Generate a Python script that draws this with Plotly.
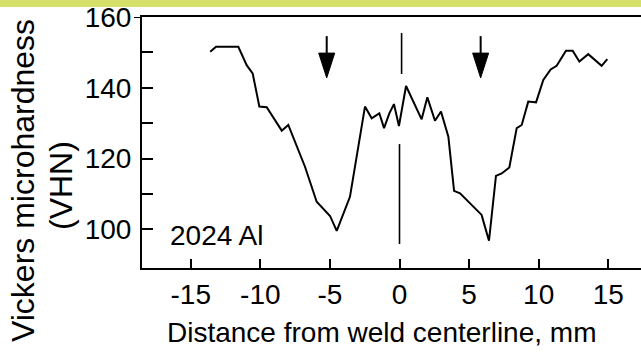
import plotly.graph_objects as go

# data
distance_mm = [-13.6, -13.18, -11.58, -10.98, -10.55, -10.07, -9.54, -8.46, -7.99, -7.39,
               -6.79, -5.95, -4.99, -4.51, -3.56, -2.48, -2.0, -1.45, -1.11, -0.73,
               -0.40, -0.04, 0.47, 1.59, 2.0, 2.55, 2.98, 3.51, 3.92, 4.35,
               5.9, 6.07, 6.43, 6.93, 7.34, 7.89, 8.42, 8.78, 9.25, 9.81,
               10.33, 10.86, 11.29, 11.96, 12.44, 12.92, 13.56, 14.52, 14.93]
hardness_vhn = [150.2, 151.6, 151.6, 146.4, 144.1, 134.7, 134.5, 127.9, 129.5, 123.4,
                117.7, 107.8, 103.8, 99.6, 109.2, 134.7, 131.4, 132.8, 128.6, 132.8,
                135.4, 129.2, 140.5, 131.1, 137.3, 130.7, 133.3, 126.2, 110.9, 110.2,
                104.1, 101.7, 96.8, 115.1, 115.8, 117.5, 128.6, 129.5, 136.1, 135.9,
                142.2, 145.2, 146.2, 150.5, 150.5, 147.4, 149.5, 146.2, 148.1]

x_ticks = [-15, -10, -5, 0, 5, 10, 15]
x_tick_labels = ["-15", "-10", "-5", "0", "5", "10", "15"]
y_ticks = [100, 110, 120, 130, 140, 150, 160]
y_tick_labels = ["100", "", "120", "", "140", "", "160"]

# annotation marks
arrow_x = [-5.23, 5.83]
arrow_top = 154.6
arrow_base = 149.8
arrow_tip = 142.8
centerline_upper = [0.15, 155.5, 143.9]   # x, y top, y bottom
centerline_lower = [0.0, 124.1, 95.9]

X_RANGE = [-18.5, 17.35]
Y_RANGE = [89.1, 160]
FONT = "Liberation Sans, Arial, Helvetica, sans-serif"

W, H = 641, 352
ML, MR, MT, MB = 142, 0, 17, 84
pw = W - ML - MR
ph = H - MT - MB
ux = (X_RANGE[1] - X_RANGE[0]) / pw   # data units per pixel
uy = (Y_RANGE[1] - Y_RANGE[0]) / ph


def px_to_paper_y(py):
    return 1 - (py - MT) / ph


def px_to_paper_x(px):
    return (px - ML) / pw


fig = go.Figure()
fig.add_trace(go.Scatter(x=distance_mm, y=hardness_vhn, mode="lines",
                         line=dict(color="black", width=2), showlegend=False,
                         hoverinfo="skip"))

shapes = []
# top band
shapes.append(dict(type="rect", xref="paper", yref="paper",
                   x0=px_to_paper_x(0), x1=1.0, y0=px_to_paper_y(7), y1=px_to_paper_y(0),
                   fillcolor="#d5e06b", line=dict(width=0), layer="above"))
# outside tick at 160
shapes.append(dict(type="line", xref="paper", yref="y", x0=px_to_paper_x(134), x1=0,
                   y0=160, y1=160, line=dict(color="black", width=2)))
# centerline
for cx, ya, yb in (centerline_upper, centerline_lower):
    shapes.append(dict(type="line", xref="x", yref="y", x0=cx, x1=cx, y0=ya, y1=yb,
                       line=dict(color="black", width=1.6)))
# arrows
hw = 8 * ux
for ax in arrow_x:
    shapes.append(dict(type="line", xref="x", yref="y", x0=ax, x1=ax,
                       y0=arrow_top, y1=arrow_base, line=dict(color="black", width=2)))
    shapes.append(dict(type="path", xref="x", yref="y",
                       path=f"M{ax - hw},{arrow_base} L{ax + hw},{arrow_base} L{ax},{arrow_tip} Z",
                       fillcolor="black", line=dict(color="black", width=1)))

annotations = [
    dict(text="2024 Al", x=-16.63, y=98.4, xref="x", yref="y", xanchor="left",
         yanchor="middle", showarrow=False, font=dict(size=28, color="black", family=FONT)),
    dict(text="Distance from weld centerline, mm", x=px_to_paper_x(381), y=px_to_paper_y(332),
         xref="paper", yref="paper", xanchor="center", yanchor="middle", showarrow=False,
         font=dict(size=28, color="black", family=FONT)),
    dict(text="Vickers microhardness", x=px_to_paper_x(23), y=px_to_paper_y(181),
         xref="paper", yref="paper", xanchor="center", yanchor="middle", showarrow=False,
         textangle=-90, font=dict(size=32, color="black", family=FONT)),
    dict(text="(VHN)", x=px_to_paper_x(61), y=px_to_paper_y(186),
         xref="paper", yref="paper", xanchor="center", yanchor="middle", showarrow=False,
         textangle=-90, font=dict(size=32, color="black", family=FONT)),
]

fig.update_layout(
    width=W, height=H, margin=dict(l=ML, r=MR, t=MT, b=MB, autoexpand=False),
    paper_bgcolor="white", plot_bgcolor="white",
    shapes=shapes, annotations=annotations,
    font=dict(family=FONT, size=28, color="black"),
    xaxis=dict(range=X_RANGE, tickvals=x_ticks, ticktext=x_tick_labels,
               ticks="inside", ticklen=9, tickwidth=2, tickcolor="black",
               showline=True, linecolor="black", linewidth=2, mirror=True,
               showgrid=False, zeroline=False, automargin=False,
               tickfont=dict(size=28, family=FONT)),
    yaxis=dict(range=Y_RANGE, tickvals=y_ticks, ticktext=y_tick_labels,
               ticks="inside", ticklen=11, tickwidth=2, tickcolor="black",
               showline=True, linecolor="black", linewidth=2, mirror=False,
               showgrid=False, zeroline=False, automargin=False, ticklabelstandoff=3,
               tickfont=dict(size=28, family=FONT)),
)
fig.write_html("out.html", config={"displayModeBar": False},
               post_script="document.body.style.margin='0';document.body.style.overflow='hidden';")
